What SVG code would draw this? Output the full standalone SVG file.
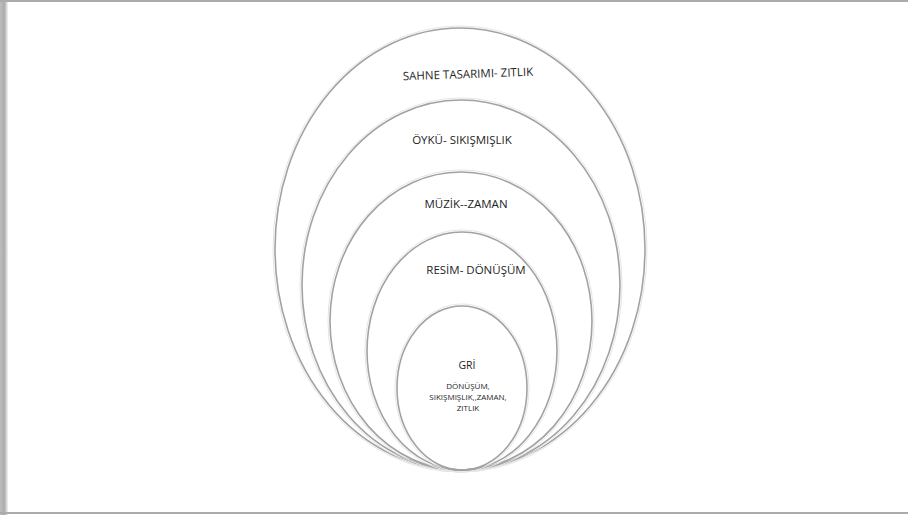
<svg xmlns="http://www.w3.org/2000/svg" width="908" height="515" viewBox="0 0 908 515">
<defs>
<linearGradient id="lsh" x1="0" y1="0" x2="1" y2="0">
<stop offset="0" stop-color="#bdbdbd"/><stop offset="0.55" stop-color="#acacac"/><stop offset="1" stop-color="#f4f4f4"/>
</linearGradient>
<filter id="soft" x="-10%" y="-10%" width="120%" height="120%">
<feGaussianBlur stdDeviation="0.5"/>
</filter>
<style>
.ring{fill:none;stroke:#a2a2a2;stroke-width:1.6;filter:url(#soft)}
.hi{fill:none;stroke:#e6e6e6;stroke-width:1}
.lbl{font-family:"Open Sans","Liberation Sans",sans-serif;fill:#1e1e1e;text-anchor:middle}
</style>
</defs>
<rect x="0" y="0" width="908" height="515" fill="#ffffff"/>
<rect x="0" y="0" width="8" height="515" fill="url(#lsh)"/>
<rect x="0" y="0" width="908" height="2" fill="#ababab"/>
<rect x="0" y="512" width="908" height="2" fill="#ababab"/>
<g id="ring-sahne">
<ellipse class="hi" cx="460" cy="249" rx="187" ry="223"/>
<ellipse class="ring" cx="460" cy="249" rx="185" ry="221"/>
<text class="lbl" x="468" y="78" font-size="11.5" transform="rotate(-2 468 75)">SAHNE TASARIMI- ZITLIK</text>
</g>
<g id="ring-oyku">
<ellipse class="hi" cx="461" cy="285" rx="161" ry="187"/>
<ellipse class="ring" cx="461" cy="285" rx="159" ry="185"/>
<text class="lbl" x="462" y="144" font-size="11.5">ÖYKÜ- SIKIŞMIŞLIK</text>
</g>
<g id="ring-muzik">
<ellipse class="hi" cx="461" cy="321" rx="133" ry="151"/>
<ellipse class="ring" cx="461" cy="321" rx="131" ry="149"/>
<text class="lbl" x="466" y="208" font-size="11.5">MÜZİK--ZAMAN</text>
</g>
<g id="ring-resim">
<ellipse class="hi" cx="462" cy="351" rx="97" ry="121"/>
<ellipse class="ring" cx="462" cy="351" rx="95" ry="119"/>
<text class="lbl" x="476" y="274" font-size="11.5">RESİM- DÖNÜŞÜM</text>
</g>
<g id="ring-gri">
<ellipse class="hi" cx="462" cy="388" rx="67" ry="84"/>
<ellipse class="ring" cx="462" cy="388" rx="65" ry="82"/>
<text class="lbl" x="467" y="369" font-size="10.5">GRİ</text>
<text class="lbl" x="468" y="389" font-size="8">DÖNÜŞÜM,</text>
<text class="lbl" x="468" y="400" font-size="8">SIKIŞMIŞLIK,,ZAMAN,</text>
<text class="lbl" x="468" y="411" font-size="8">ZITLIK</text>
</g>
<g id="connectors"></g>
</svg>
